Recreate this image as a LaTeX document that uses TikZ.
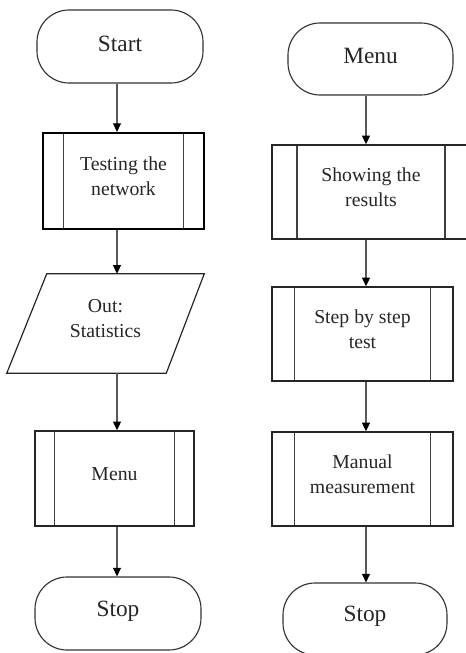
\documentclass[tikz,border=0pt]{standalone}
\usepackage{fontspec}
\setmainfont{Liberation Serif}
\usetikzlibrary{arrows.meta,fit}
\begin{document}
\begin{tikzpicture}[x=0.75pt,y=-0.75pt,
  every node/.style={inner sep=0pt},
  txt/.style={font=\fontsize{14.8}{18.8}\selectfont, align=center, text=black!85},
  bigtxt/.style={font=\fontsize{17.5}{21}\selectfont, text=black!85},
  terminal/.style={draw=black!80, line width=0.85pt, rounded corners=24pt},
  subbox/.style={draw=black!85, line width=1.1pt,
    path picture={
      \draw[black!75, line width=1.1pt]
        ([xshift=#1]path picture bounding box.north west) --
        ([xshift=#1]path picture bounding box.south west)
        ([xshift=-#1]path picture bounding box.north east) --
        ([xshift=-#1]path picture bounding box.south east);}},
  iobox/.style={draw=black!85, line width=0.9pt},
  arr/.style={draw=black!65, line width=0.85pt,
    -{Triangle[length=6.5pt,width=6pt,color=black]}},
  up/.style={label={[txt,yshift=3.5pt]center:#1}},
  term/.style={label={[bigtxt,yshift=2pt]center:#1}}
]
\useasboundingbox (0,0) rectangle (466,653);

% left column
\node[fit={(37,10) (203,83)}, terminal, term=Start] (start) {};
\node[fit={(43,133) (204,229)}, subbox=15.5pt, draw=black, line width=1.6pt,
      up={Testing the\\network}] (test) {};
% output parallelogram: frame node gives the anchors, the slanted outline is drawn on it
\node[fit={(7,274) (204,373)}, up={Out:\\Statistics}] (out) {};
\draw[iobox] ([xshift=30pt]out.north west) -- (out.north east)
  -- ([xshift=-28.5pt]out.south east) -- (out.south west) -- cycle;
\node[fit={(35,431) (194,526)}, subbox=14.5pt, up=Menu] (menuA) {};
\node[fit={(35,577) (201,650)}, terminal, term=Stop] (stopA) {};

% right column
\node[fit={(288,23) (453,95)}, terminal, term=Menu] (menuB) {};
\node[fit={(272,145) (470,239)}, subbox=18.75pt, up={Showing the\\results}] (show) {};
\node[fit={(272,287) (453,381)}, subbox=17pt, up={Step by step\\test}] (steps) {};
\node[fit={(272,432) (453,526)}, subbox=17pt, up={Manual\\measurement}] (manual) {};
\node[fit={(283,583) (447,655)}, terminal, term=Stop] (stopB) {};

% connector columns
\coordinate (lx) at (117,0);
\coordinate (rx) at (366,0);

\draw[arr] (start.south -| lx) -- (test.north -| lx);
\draw[arr] (test.south -| lx) -- (out.north -| lx);
\draw[arr] (out.south -| lx) -- (menuA.north -| lx);
\draw[arr] (menuA.south -| lx) -- (stopA.north -| lx);

\draw[arr] (menuB.south -| rx) -- (show.north -| rx);
\draw[arr] (show.south -| rx) -- (steps.north -| rx);
\draw[arr] (steps.south -| rx) -- (manual.north -| rx);
\draw[arr] (manual.south -| rx) -- (stopB.north -| rx);
\end{tikzpicture}
\end{document}
